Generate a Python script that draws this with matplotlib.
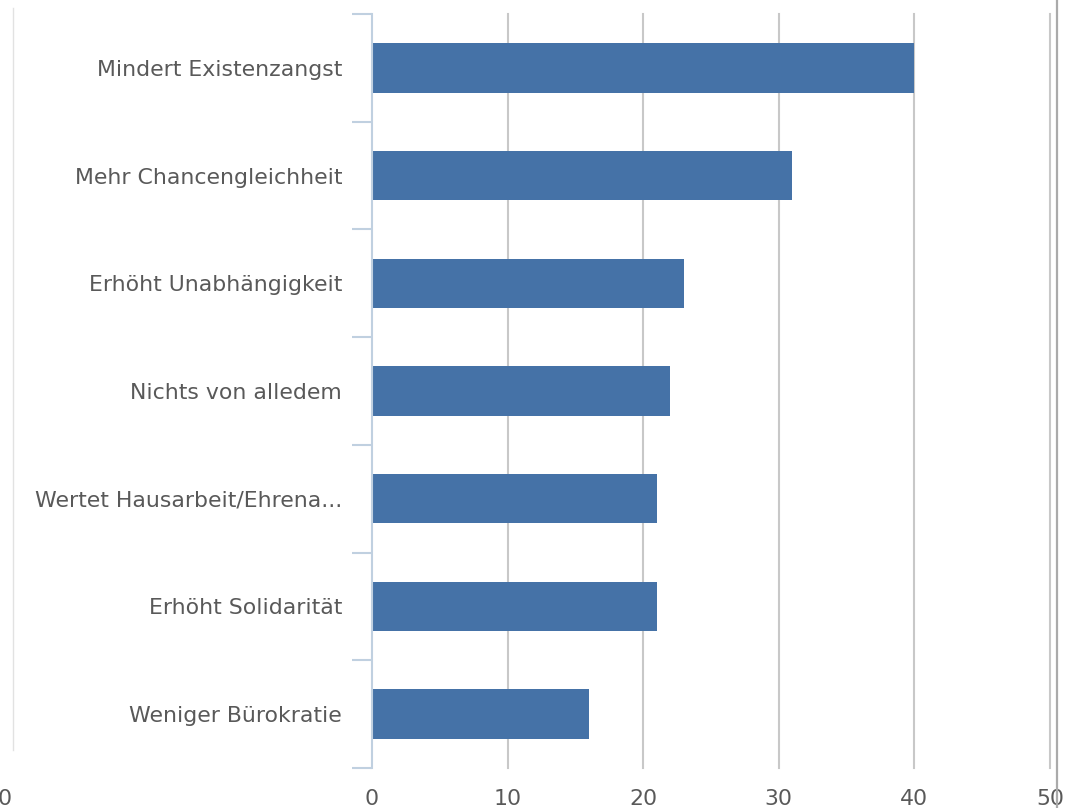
import matplotlib
matplotlib.use("Agg")
import matplotlib.pyplot as plt
from matplotlib.lines import Line2D
import numpy as np

plt.rcParams["font.family"] = ["DejaVu Sans"]
plt.rcParams["font.sans-serif"] = ["DejaVu Sans"]

categories = ["Mindert Existenzangst", "Mehr Chancengleichheit", "Erhöht Unabhängigkeit",
              "Nichts von alledem", "Wertet Hausarbeit/Ehrena...", "Erhöht Solidarität",
              "Weniger Bürokratie"]
values = [40, 31, 23, 22, 21, 21, 16]
xticks = [0, 10, 20, 30, 40, 50]

W, H = 1073, 808
FS = 15.8
fig = plt.figure(figsize=(W / 100, H / 100), dpi=100)
ax = fig.add_axes([372 / W, 1 - 768 / H, (1050 - 372) / W, (768 - 14) / H])

pos = np.arange(len(categories))
ax.barh(pos, values, height=0.46, color="#4572a7", zorder=3)
ax.set_ylim(len(categories) - 0.5, -0.5)
ax.set_xlim(0, 50)

ax.set_yticks(pos)
ax.set_yticklabels(categories)
ax.set_yticks(np.arange(-0.5, len(categories) + 0.5, 1), minor=True)
ax.tick_params(axis="y", which="major", length=0, pad=21.5, labelsize=FS, labelcolor="#595959")
ax.tick_params(axis="y", which="minor", length=14.4, width=1.5, color="#c0d0e0", direction="out")

ax.set_xticks(xticks)
ax.set_xticklabels([str(t) for t in xticks])
ax.tick_params(axis="x", which="major", length=0, pad=15, labelsize=FS, labelcolor="#595959")

for t in xticks[1:]:
    ax.axvline(t, color="#c8c8c8", lw=1.5, zorder=1, clip_on=False)

for s in ["top", "right", "bottom"]:
    ax.spines[s].set_visible(False)
ax.spines["left"].set_color("#c0d0e0")
ax.spines["left"].set_linewidth(1.5)
ax.spines["left"].set_zorder(4)

# screenshot edge artifacts
fig.add_artist(Line2D([13 / W, 13 / W], [1 - 8 / H, 1 - 750 / H], color="#e2e2e2", lw=1))
fig.add_artist(Line2D([1057 / W, 1057 / W], [0, 1], color="#aaaaaa", lw=1.6))
fig.text(5 / W, 1 - 799 / H, "0", ha="center", va="center", fontsize=FS, color="#595959")

fig.savefig("out.png", dpi=100)
